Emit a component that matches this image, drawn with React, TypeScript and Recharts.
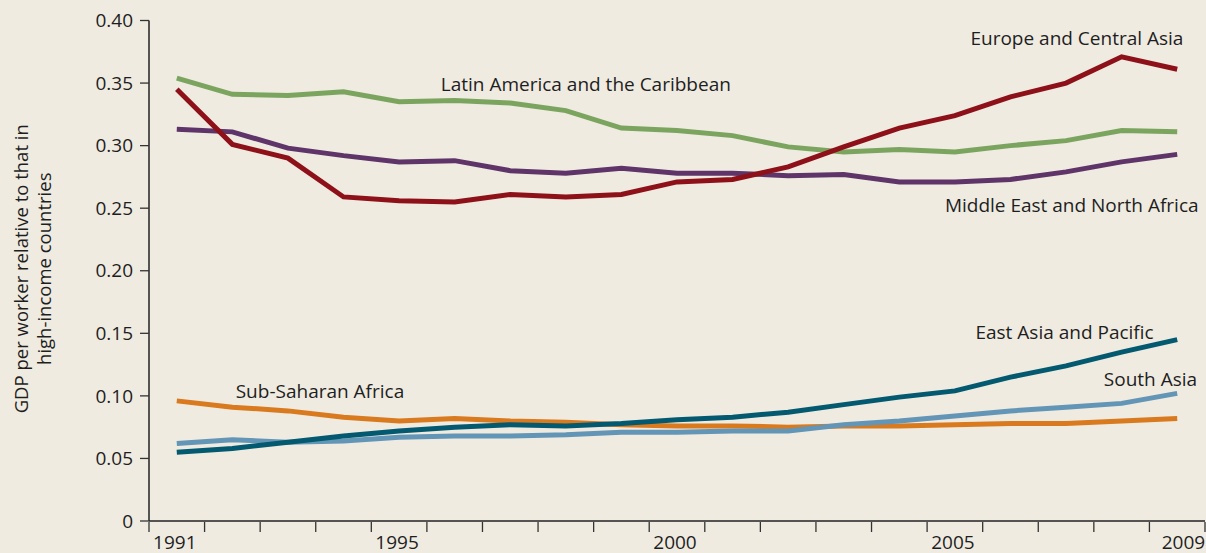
import { LineChart, Line, XAxis, YAxis, ReferenceDot } from "recharts";

const YEARS = [
  1991, 1992, 1993, 1994, 1995, 1996, 1997, 1998, 1999, 2000,
  2001, 2002, 2003, 2004, 2005, 2006, 2007, 2008, 2009,
];

const LATIN = [
  0.354, 0.341, 0.340, 0.343, 0.335, 0.336, 0.334, 0.328, 0.314, 0.312,
  0.308, 0.299, 0.295, 0.297, 0.295, 0.300, 0.304, 0.312, 0.311,
];
const EUROPE = [
  0.345, 0.301, 0.290, 0.259, 0.256, 0.255, 0.261, 0.259, 0.261, 0.271,
  0.273, 0.283, 0.299, 0.314, 0.324, 0.339, 0.350, 0.371, 0.361,
];
const MENA = [
  0.313, 0.311, 0.298, 0.292, 0.287, 0.288, 0.280, 0.278, 0.282, 0.278,
  0.278, 0.276, 0.277, 0.271, 0.271, 0.273, 0.279, 0.287, 0.293,
];
const EAST_ASIA = [
  0.055, 0.058, 0.063, 0.068, 0.072, 0.075, 0.077, 0.076, 0.078, 0.081,
  0.083, 0.087, 0.093, 0.099, 0.104, 0.115, 0.124, 0.135, 0.145,
];
const SOUTH_ASIA = [
  0.062, 0.065, 0.063, 0.064, 0.067, 0.068, 0.068, 0.069, 0.071, 0.071,
  0.072, 0.072, 0.077, 0.080, 0.084, 0.088, 0.091, 0.094, 0.102,
];
const SSA = [
  0.096, 0.091, 0.088, 0.083, 0.080, 0.082, 0.080, 0.079, 0.077, 0.076,
  0.076, 0.075, 0.076, 0.076, 0.077, 0.078, 0.078, 0.080, 0.082,
];

const Y_TICKS = [0, 0.05, 0.1, 0.15, 0.2, 0.25, 0.3, 0.35, 0.4];
const X_LABELS = [1991, 1995, 2000, 2005, 2009];
const X_MARKS = [...YEARS.map((y) => y - 0.5), 2009.5];

const SERIES = [
  { key: "latin", values: LATIN, color: "#7ba55f" },
  { key: "mena", values: MENA, color: "#5f3469" },
  { key: "europe", values: EUROPE, color: "#8e1119" },
  { key: "ssa", values: SSA, color: "#d97a1f" },
  { key: "south", values: SOUTH_ASIA, color: "#6395b6" },
  { key: "east", values: EAST_ASIA, color: "#03596f" },
];

// region name labels: [text, year of left edge, value at text middle]
const LABELS: [string, number, number][] = [
  ["Latin America and the Caribbean", 1995.75, 0.349],
  ["Europe and Central Asia", 2005.28, 0.386],
  ["Middle East and North Africa", 2004.82, 0.2525],
  ["East Asia and Pacific", 2005.37, 0.151],
  ["South Asia", 2007.68, 0.1138],
  ["Sub-Saharan Africa", 1992.06, 0.1036],
];

const data = YEARS.map((year, i) => {
  const row: Record<string, number> = { year };
  SERIES.forEach((s) => (row[s.key] = s.values[i]));
  return row;
});

const FONT = "'Open Sans', sans-serif";
const INK = "#1e1e1e";
const FS = 19;

function XTick(props: any) {
  const { x, y, payload } = props;
  const v = payload.value as number;
  if (v % 1 !== 0) {
    return <line x1={x} x2={x} y1={y - 1} y2={y + 9} stroke="#333" strokeWidth={1.3} />;
  }
  const last = v === X_LABELS[X_LABELS.length - 1];
  return (
    <text
      x={last ? x + 28 : x - 2}
      y={y + 26}
      textAnchor={last ? "end" : "middle"}
      fontSize={FS}
      fill={INK}
      fontFamily={FONT}
    >
      {v}
    </text>
  );
}

function YTitle(props: any) {
  const vb = props.viewBox || { x: 0, y: 20, width: 149, height: 500 };
  const cy = vb.y + vb.height / 2 - 2;
  return (
    <text
      transform={`translate(0, ${cy}) rotate(-90)`}
      textAnchor="middle"
      fontSize={18.5}
      fill={INK}
      fontFamily={FONT}
    >
      <tspan x={0} y={28}>GDP per worker relative to that in</tspan>
      <tspan x={0} y={51}>high-income countries</tspan>
    </text>
  );
}

export default function App() {
  return (
    <div
      style={{
        position: "absolute",
        left: 0,
        top: 0,
        width: 1206,
        height: 553,
        background: "#efebe1",
      }}
    >
      <LineChart
        width={1206}
        height={553}
        data={data}
        margin={{ top: 20.5, right: 1, left: 0, bottom: 0 }}
      >
        <XAxis
          dataKey="year"
          type="number"
          domain={[1990.5, 2009.5]}
          ticks={[...X_MARKS, ...X_LABELS]}
          interval={0}
          tick={<XTick />}
          tickLine={false}
          tickSize={0}
          height={32}
          axisLine={{ stroke: "#222", strokeWidth: 1.5 }}
        />
        <YAxis
          domain={[0, 0.4]}
          ticks={Y_TICKS}
          interval={0}
          width={149}
          tickSize={9}
          tickMargin={7}
          tickFormatter={(v: number) => (v === 0 ? "0" : v.toFixed(2))}
          tick={{ fontSize: FS, fill: INK, fontFamily: FONT }}
          tickLine={{ stroke: "#333", strokeWidth: 1.3 }}
          axisLine={{ stroke: "#222", strokeWidth: 1.5 }}
          label={{ content: <YTitle /> }}
        />
        {SERIES.map((s) => (
          <Line
            key={s.key}
            dataKey={s.key}
            type="linear"
            stroke={s.color}
            strokeWidth={5}
            dot={false}
            activeDot={false}
            isAnimationActive={false}
          />
        ))}
        {LABELS.map(([text, x, y]) => (
          <ReferenceDot
            key={text}
            x={x}
            y={y}
            r={0}
            fill="none"
            stroke="none"
            ifOverflow="visible"
            label={{
              content: (p: any) => (
                <text
                  x={p.viewBox.x}
                  y={p.viewBox.y}
                  dominantBaseline="central"
                  textAnchor="start"
                  fontSize={FS}
                  fill={INK}
                  fontFamily={FONT}
                >
                  {text}
                </text>
              ),
            }}
          />
        ))}
      </LineChart>
    </div>
  );
}
